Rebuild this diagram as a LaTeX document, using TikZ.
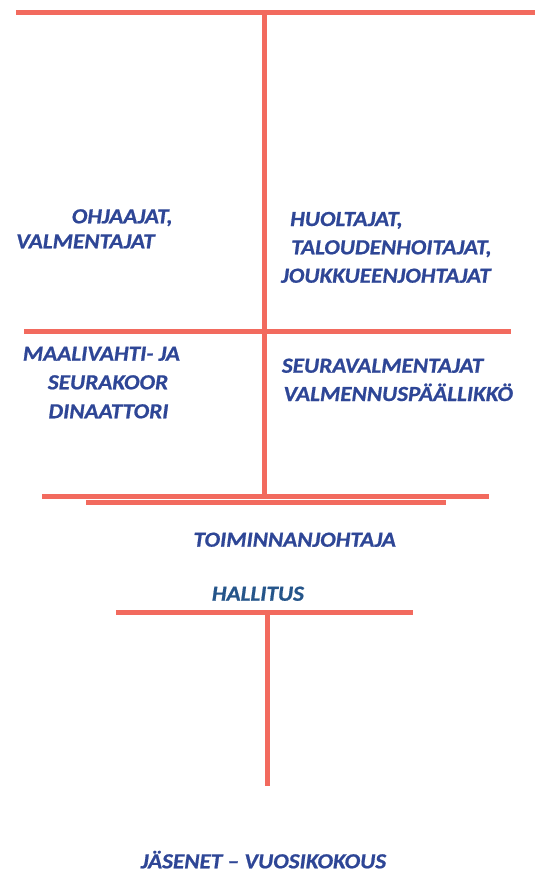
\documentclass[tikz,border=0pt]{standalone}
\usepackage{fontspec}
\setmainfont{Carlito}[FakeStretch=1.08, FakeBold=0.8]
\definecolor{viiva}{RGB}{242,106,94}
\definecolor{teksti}{RGB}{46,70,150}
\definecolor{hallitus}{RGB}{37,85,138}
\tikzset{
 viivat/.style={viiva, line width=5pt},
 nimi/.style={anchor=base west, inner sep=0pt, text=teksti,
   font=\fontsize{21.5}{26}\selectfont\bfseries\itshape},
}
\begin{document}
\begin{tikzpicture}[x=1pt,y=-1pt]
\useasboundingbox (0,0) rectangle (535,872);
% vaakaviivat
\draw[viivat] (16,12.8) -- (535,12.8);
\draw[viivat] (24,331.7) -- (511,331.7);
\draw[viivat] (42,496.8) -- (489,496.8);
\draw[viivat] (86,502) -- (446,502);
\draw[viivat] (116,612) -- (413,612);
% pystyviivat
\draw[viivat] (264.8,10.3) -- (264.8,497);
\draw[viivat] (267,612) -- (267,786);
% tekstit
\node[nimi] (ohj1) at (71.7,223.3) {OHJAAJAT,};
\node[nimi] (ohj2) at (16,248.3) {VALMENTAJAT};
\node[nimi] (huo1) at (290,226) {HUOLTAJAT,};
\node[nimi] (huo2) at (291,254.3) {TALOUDENHOITAJAT,};
\node[nimi] (huo3) at (281,282.7) {JOUKKUEENJOHTAJAT};
\node[nimi] (maa1) at (22.7,360.7) {MAALIVAHTI- JA};
\node[nimi] (maa2) at (47.7,389.3) {SEURAKOOR};
\node[nimi] (maa3) at (48.3,418.3) {DINAATTORI};
\node[nimi] (seu1) at (281.7,372.7) {SEURAVALMENTAJAT};
\node[nimi] (seu2) at (283.3,401) {VALMENNUSPÄÄLLIKKÖ};
\node[nimi] (toim) at (193.3,546.7) {TOIMINNANJOHTAJA};
\node[nimi, text=hallitus] (hall) at (211.7,600.7) {HALLITUS};
\node[nimi] (jas) at (140.7,868.3) {JÄSENET – VUOSIKOKOUS};
\end{tikzpicture}
\end{document}
